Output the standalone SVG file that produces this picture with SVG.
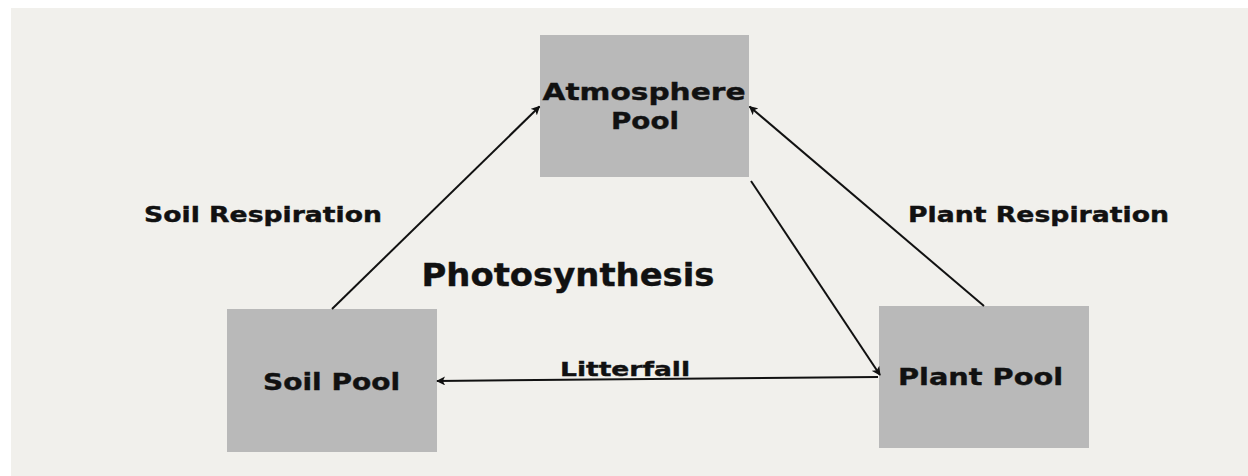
<svg xmlns="http://www.w3.org/2000/svg" width="1248" height="476" viewBox="0 0 1248 476">
  <style>
    .pool { fill: #b9b9b9; }
    .lbl { font-family: "DejaVu Sans", "Liberation Sans", sans-serif; font-weight: bold; fill: #111; stroke: #111; stroke-width: 0.4; }
    .flow { stroke: #111; stroke-width: 2; fill: none; marker-end: url(#head); }
  </style>
  <defs>
    <marker id="head" viewBox="0 0 10 10" refX="9" refY="5" markerWidth="4.5" markerHeight="4.5" orient="auto" markerUnits="strokeWidth">
      <path d="M0,0 L10,5 L0,10 L2.5,5 Z" fill="#111"/>
    </marker>
  </defs>

  <rect x="0" y="0" width="1248" height="476" fill="#ffffff"/>
  <rect x="11" y="8" width="1237" height="468" fill="#f1f0ec"/>

  <g id="atmosphere-pool">
    <rect class="pool" x="540" y="35" width="209" height="142"/>
    <text class="lbl" x="542.5" y="100" font-size="23.5" textLength="203" lengthAdjust="spacingAndGlyphs">Atmosphere</text>
    <text class="lbl" x="611" y="129" font-size="23.5" textLength="68" lengthAdjust="spacingAndGlyphs">Pool</text>
  </g>

  <g id="soil-pool">
    <rect class="pool" x="227" y="309" width="210" height="143"/>
    <text class="lbl" x="263" y="390" font-size="23" textLength="137" lengthAdjust="spacingAndGlyphs">Soil Pool</text>
  </g>

  <g id="plant-pool">
    <rect class="pool" x="879" y="306" width="210" height="142"/>
    <text class="lbl" x="898" y="385" font-size="23.5" textLength="165" lengthAdjust="spacingAndGlyphs">Plant Pool</text>
  </g>

  <g id="connectors">
    <line class="flow" x1="332" y1="309" x2="539.5" y2="106.5"/>
    <line class="flow" x1="984" y1="306" x2="749.5" y2="106.5"/>
    <line class="flow" x1="751" y1="181" x2="880" y2="375"/>
    <line class="flow" x1="878" y1="377" x2="437" y2="381"/>
  </g>

  <g id="flow-labels">
    <text class="lbl" x="144" y="221.5" font-size="20.5" textLength="238" lengthAdjust="spacingAndGlyphs">Soil Respiration</text>
    <text class="lbl" x="908" y="221.5" font-size="20.5" textLength="261" lengthAdjust="spacingAndGlyphs">Plant Respiration</text>
    <text class="lbl" x="421.5" y="286" font-size="31.5" textLength="293" lengthAdjust="spacingAndGlyphs">Photosynthesis</text>
    <text class="lbl" x="560" y="376" font-size="20" textLength="130" lengthAdjust="spacingAndGlyphs">Litterfall</text>
  </g>
</svg>
